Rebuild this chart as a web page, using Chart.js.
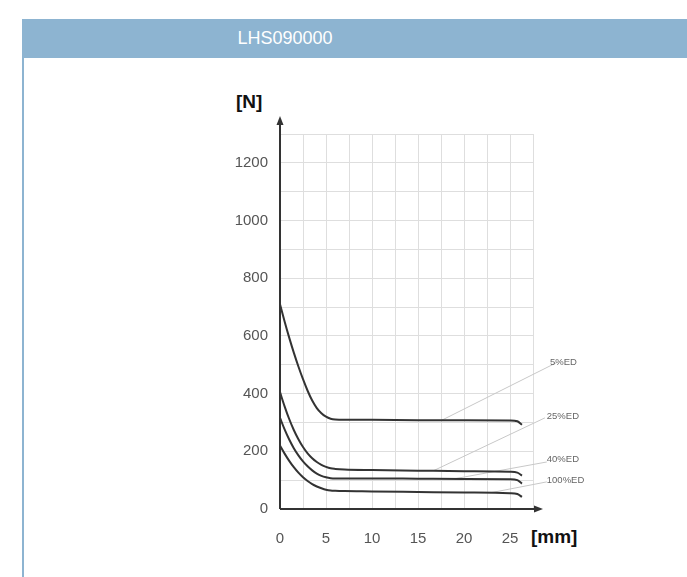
<!DOCTYPE html>
<html>
<head>
<meta charset="utf-8">
<script src="https://cdn.jsdelivr.net/npm/chart.js@4.4.0/dist/chart.umd.min.js"></script>
<style>
    body { margin: 0; background: #fff; font-family: "Liberation Sans", Arial, sans-serif; }
    #header {
        position: absolute; left: 22px; top: 19px; width: 665px; height: 39px;
        background: #8db4d1; color: #fff; font-size: 18px; line-height: 39px;
    }
    #header span { position: absolute; left: 193px; width: 140px; text-align: center; }
    #border { position: absolute; left: 22px; top: 58px; width: 2px; height: 519px; background: #8db4d1; }
    .unit { position: absolute; font-weight: bold; font-size: 19px; color: #111; }
    #chartwrap { position: absolute; left: 0; top: 0; width: 687px; height: 577px; }
</style>
</head>
<body>
<div id="header"><span>LHS090000</span></div>
<div id="border"></div>
<div class="unit" style="left:236px; top:91px;">[N]</div>
<div class="unit" style="left:531px; top:526px;">[mm]</div>
<div id="chartwrap"><canvas id="chartline" width="687" height="577"></canvas></div>

<script>
// stroke [mm]
const xStroke = [0, 0.5, 1, 1.5, 2, 2.5, 3, 3.5, 4, 4.5, 5, 5.5, 6, 7, 10, 15, 20, 25, 25.8, 26.3];

// force [N] per duty cycle
const ed5   = [710, 650, 594, 542, 494, 450, 410, 376, 350, 332, 320, 313, 310, 309, 309, 308, 308, 307, 304, 292];
const ed25  = [405, 356, 312, 274, 242, 215, 193, 176, 163, 153, 146, 141, 139, 137, 135, 133, 131, 129, 126, 116];
const ed40  = [316, 276, 241, 211, 186, 165, 148, 134, 123, 115, 110, 107, 106, 106, 106, 105, 104, 103, 100, 88];
const ed100 = [220, 192, 167, 145, 126, 110, 97, 86, 78, 72, 67, 64, 63, 62, 61, 59, 57, 55, 52, 42];

const xTicks = [0, 5, 10, 15, 20, 25];
const yTicks = [0, 200, 400, 600, 800, 1000, 1200];

// leader lines: from label to curve, [x, y] in data units
const seriesNames = ['5%ED', '25%ED', '40%ED', '100%ED'];
const leaderFrom = [[30.1, 508], [28.8, 316], [29.0, 163], [29.0, 94]];
const leaderTo   = [[17.6, 308], [16.7, 133], [19.0, 105], [23.0, 57]];
const labelAt    = [[29.35, 507], [29.0, 321], [29.0, 172], [29.0, 100]];

function toPoints(xs, ys) {
    return xs.map((x, i) => ({ x: x, y: ys[i] }));
}

const curveData = [ed5, ed25, ed40, ed100].map(ys => ({
    data: toPoints(xStroke, ys),
    borderColor: '#333',
    borderWidth: 2,
    pointRadius: 0,
    cubicInterpolationMode: 'monotone',
    fill: false
}));

const leaderData = leaderFrom.map((p, i) => ({
    data: [{ x: p[0], y: p[1] }, { x: leaderTo[i][0], y: leaderTo[i][1] }],
    borderColor: '#c8c8c8',
    borderWidth: 1,
    pointRadius: 0,
    clip: false
}));

// Axis lines with arrows and series labels
const axisPlugin = {
    id: 'axisArrows',
    afterDatasetsDraw(chart) {
        const ctx = chart.ctx;
        const a = chart.chartArea;
        const xs = chart.scales.x, ys = chart.scales.y;
        ctx.save();
        ctx.strokeStyle = '#333';
        ctx.fillStyle = '#333';
        ctx.lineWidth = 2;
        ctx.beginPath();
        ctx.moveTo(a.left, a.bottom);
        ctx.lineTo(a.left, a.top - 12);
        ctx.moveTo(a.left, a.bottom);
        ctx.lineTo(a.right + 5, a.bottom);
        ctx.stroke();
        ctx.beginPath();
        ctx.moveTo(a.left, a.top - 18);
        ctx.lineTo(a.left - 3.5, a.top - 9);
        ctx.lineTo(a.left + 3.5, a.top - 9);
        ctx.closePath();
        ctx.fill();
        ctx.beginPath();
        ctx.moveTo(a.right + 10, a.bottom);
        ctx.lineTo(a.right + 1, a.bottom - 3.5);
        ctx.lineTo(a.right + 1, a.bottom + 3.5);
        ctx.closePath();
        ctx.fill();

        ctx.fillStyle = '#666';
        ctx.font = '9.5px "Liberation Sans", Arial, sans-serif';
        ctx.textBaseline = 'middle';
        ctx.textAlign = 'left';
        seriesNames.forEach((name, i) => {
            ctx.fillText(name, xs.getPixelForValue(labelAt[i][0]), ys.getPixelForValue(labelAt[i][1]));
        });
        ctx.restore();
    }
};

new Chart(document.getElementById('chartline'), {
    type: 'line',
    data: { datasets: curveData.concat(leaderData) },
    options: {
        responsive: false,
        animation: false,
        layout: { padding: { left: 0, top: 134, right: 154, bottom: 0 } },
        scales: {
            x: {
                type: 'linear',
                min: 0,
                max: 27.5,
                afterFit: s => { s.height = 68; },
                border: { display: false },
                grid: { color: '#dedede', lineWidth: 1, drawTicks: false },
                ticks: {
                    stepSize: 2.5,
                    padding: 21,
                    color: '#555',
                    font: { family: '"Liberation Sans", Arial, sans-serif', size: 15 },
                    maxRotation: 0,
                    autoSkip: false,
                    callback: v => xTicks.includes(v) ? v : ''
                }
            },
            y: {
                min: 0,
                max: 1300,
                afterFit: s => { s.width = 280; },
                border: { display: false },
                grid: { color: '#dedede', lineWidth: 1, drawTicks: false },
                ticks: {
                    stepSize: 100,
                    padding: 12,
                    color: '#555',
                    font: { family: '"Liberation Sans", Arial, sans-serif', size: 15 },
                    autoSkip: false,
                    callback: v => yTicks.includes(v) ? v : ''
                }
            }
        },
        plugins: {
            legend: { display: false },
            tooltip: { enabled: false }
        }
    },
    plugins: [axisPlugin]
});
</script>
</body>
</html>
